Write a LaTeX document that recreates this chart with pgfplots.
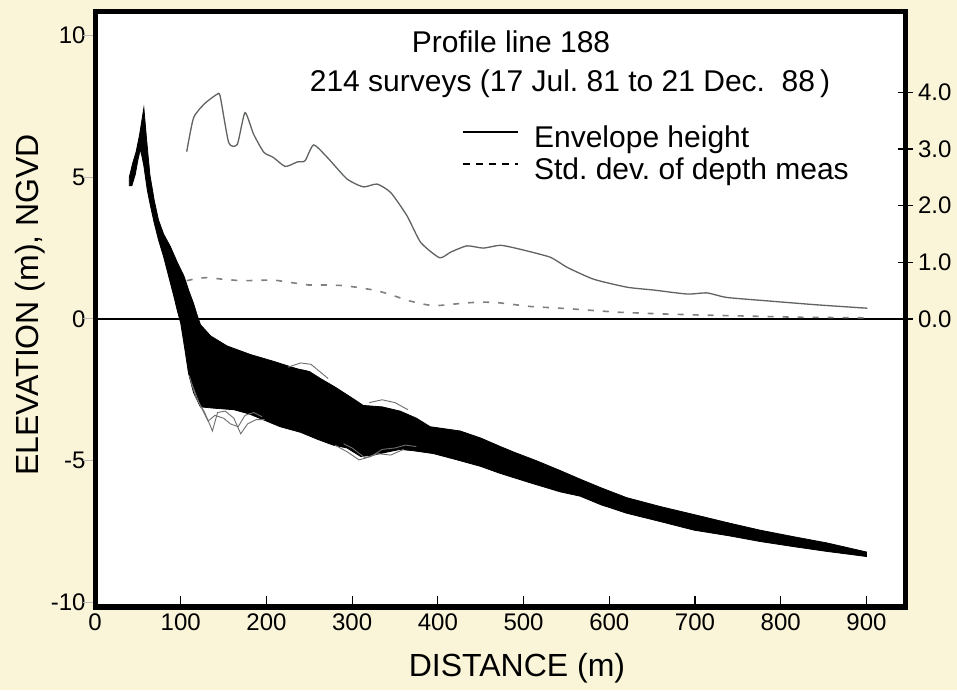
\documentclass[border=0pt]{standalone}
\usepackage{fontspec}
\setmainfont{Liberation Sans}
\usepackage{pgfplots}
\pgfplotsset{compat=1.18}
\definecolor{bgc}{RGB}{250,244,216}
\definecolor{envc}{RGB}{95,100,95}
\definecolor{sdc}{RGB}{125,130,125}
\definecolor{outc}{RGB}{110,110,110}

\begin{document}
\begin{tikzpicture}[x=1pt,y=1pt]
\fill[bgc] (0,0) rectangle (957,690);
\path[use as bounding box] (0,0) rectangle (957,690);

% ---------- main axis (elevation) ----------
\begin{axis}[
  name=main,
  at={(95pt,83pt)}, anchor=south west, scale only axis,
  width=810pt, height=595pt,
  xmin=0, xmax=945, ymin=-10.16, ymax=10.83,
  axis background/.style={fill=white},
  axis line style={line width=5pt},
  xtick={0,100,...,900}, ytick={-10,-5,0,5,10},
  xtick pos=bottom, ytick pos=left,
  tick align=inside,
  xtick style={black, line width=1.2pt},
  major tick length=11pt,
  ytick style={draw=none},
  ticklabel style={font=\fontsize{24}{24}\selectfont},
  /pgf/number format/assume math mode=true,
  xticklabel style={yshift=-3pt},
  yticklabel style={xshift=-6pt},
  xlabel={DISTANCE (m)}, ylabel={ELEVATION (m), NGVD},
  label style={font=\fontsize{32}{32}\selectfont},
  xlabel style={at={(axis description cs:0.521,-0.1025)}, anchor=center},
  ylabel style={at={(axis description cs:-0.0802,0.5076)}, anchor=center},
  legend style={at={(axis description cs:0.4531,0.8100)}, anchor=north west,
    draw=none, fill=none, inner sep=0pt, outer sep=0pt,
    font=\fontsize{30}{30}\selectfont,
    nodes={inner sep=0pt, text height=22pt, text depth=6pt},
    column sep=16pt, row sep=4pt},
  legend cell align=left,
  legend image code/.code={\draw[#1] (0pt,7pt) -- (55pt,7pt);},
]
\addlegendimage{black, line width=1.1pt}
\addlegendentry{Envelope height}
\addlegendimage{black, line width=1.1pt, dash pattern=on 7pt off 6pt}
\addlegendentry{Std.\ dev.\ of depth meas}

% zero line
\addplot[black, line width=1.5pt] coordinates {(0,0) (945,0)};

% envelope of the 214 surveyed profiles (filled band)
\addplot[fill=black, draw=black, line width=0.8pt] coordinates {
(40,5.0) (44,5.5) (48,5.9) (52,6.5) (57,7.45) (60,6.4) (64,5.1) (69,4.2) (74,3.5) (80,3.0)
(88,2.55) (96,2.0) (104,1.5) (110,0.95) (115,0.55) (119,0.15) (123,-0.2) (135,-0.6)
(154,-0.95) (181,-1.25) (209,-1.5) (235,-1.75) (250,-1.85) (263,-2.1) (280,-2.4)
(298,-2.75) (313,-3.05) (335,-3.1) (356,-3.25) (375,-3.5) (391,-3.8) (426,-3.95)
(450,-4.2) (473,-4.5) (489,-4.7) (515,-5.0) (543,-5.35) (566,-5.65) (590,-5.95)
(620,-6.3) (660,-6.62) (699,-6.9) (740,-7.2) (776,-7.45) (815,-7.68) (854,-7.9)
(880,-8.08) (900,-8.22)
(900,-8.38) (880,-8.3) (854,-8.2) (815,-8.03) (776,-7.85) (740,-7.65) (699,-7.45)
(660,-7.15) (620,-6.85) (590,-6.55) (566,-6.25) (543,-6.1) (510,-5.8) (473,-5.45)
(450,-5.2) (420,-4.95) (395,-4.75) (372,-4.65) (356,-4.6) (340,-4.7) (325,-4.8)
(310,-4.85) (294,-4.55) (278,-4.45) (260,-4.25) (240,-4.0) (216,-3.8) (200,-3.6)
(180,-3.35) (162,-3.2) (140,-3.15) (123,-3.1) (115,-2.6) (109,-1.9) (105,-1.1)
(100,-0.15) (96,0.3) (92,0.8) (86,1.5) (80,2.2) (74,2.8) (69,3.4) (65,3.95) (61,4.55)
(57,5.4) (53,6.0) (50,5.6) (47,5.1) (43,4.7) (40,4.7)
} -- cycle;

% outlying individual surveys
\addplot[outc, line width=0.9pt] coordinates {(110,-2.0) (118,-2.8) (128,-3.3) (137,-3.95) (143,-3.3) (152,-3.25) (162,-3.5) (170,-4.05) (178,-3.7) (188,-3.55) (198,-3.55)};
\addplot[outc, line width=0.9pt] coordinates {(113,-2.3) (122,-3.0) (132,-3.6) (140,-3.4) (150,-3.5) (158,-3.7) (167,-3.8) (175,-3.4) (185,-3.3) (195,-3.45)};
\addplot[outc, line width=0.9pt] coordinates {(225,-1.7) (240,-1.55) (252,-1.6) (262,-1.85) (272,-2.1)};
\addplot[outc, line width=0.9pt] coordinates {(320,-2.95) (335,-2.85) (350,-2.95) (365,-3.2)};
\addplot[outc, line width=0.9pt] coordinates {(280,-4.45) (295,-4.7) (308,-4.97) (322,-4.85) (335,-4.6) (350,-4.55) (362,-4.45) (375,-4.5)};
\addplot[outc, line width=0.9pt] coordinates {(290,-4.4) (300,-4.55) (315,-4.9) (330,-4.75) (345,-4.8) (360,-4.6)};
\end{axis}

% ---------- faint outer ticks on the left ----------
\begin{axis}[
  at={(95pt,83pt)}, anchor=south west, scale only axis,
  width=810pt, height=595pt,
  xmin=0, xmax=945, ymin=-10.16, ymax=10.83,
  axis x line=none, axis y line*=left, axis line style={draw=none},
  ytick={-10,-5,0,5,10}, yticklabels={},
  tick align=outside, major tick length=12pt,
  ytick style={gray!55, line width=1pt},
]
\addplot[draw=none] coordinates {(0,0)};
\end{axis}

% ---------- right axis (envelope height, std. dev.) ----------
\begin{axis}[
  at={(95pt,83pt)}, anchor=south west, scale only axis,
  width=810pt, height=595pt,
  xmin=0, xmax=945, ymin=-5.08, ymax=5.415,
  axis x line=none, axis y line*=right, axis line style={draw=none},
  ytick={0,1,2,3,4},
  yticklabel={\pgfmathprintnumber[fixed,fixed zerofill,precision=1,assume math mode=true]{\tick}},
  yticklabel style={font=\fontsize{24}{24}\selectfont, xshift=2pt},
  tick align=center, major tick length=15pt,
  ytick style={black, line width=1.2pt},
]
\addplot[envc, line width=1.3pt, smooth, tension=0.35] coordinates {
(107,2.95) (115,3.55) (128,3.80) (142,3.96) (146,3.93) (156,3.11) (166,3.08) (175,3.64)
(185,3.26) (197,2.94) (208,2.85) (222,2.69) (236,2.77) (245,2.79) (255,3.07) (271,2.85)
(294,2.47) (313,2.33) (329,2.38) (345,2.23) (364,1.82) (380,1.35) (402,1.08) (415,1.18)
(434,1.29) (453,1.25) (473,1.30) (496,1.23) (531,1.09) (551,0.91) (582,0.70) (621,0.56)
(652,0.51) (691,0.44) (714,0.46) (737,0.38) (784,0.32) (842,0.25) (901,0.19)
};
\addplot[sdc, line width=1.6pt, dash pattern=on 6pt off 9pt] coordinates {
(107,0.675) (120,0.72) (131,0.73) (150,0.70) (170,0.675) (190,0.68) (208,0.69) (230,0.64)
(249,0.60) (270,0.60) (290,0.59) (310,0.55) (329,0.50) (345,0.43) (364,0.33) (380,0.27)
(395,0.23) (411,0.25) (430,0.28) (450,0.30) (469,0.29) (508,0.22) (554,0.18) (609,0.12)
(660,0.09) (706,0.07) (765,0.05) (823,0.03) (901,0.02)
};
\end{axis}

% ---------- thick frame around the plot area ----------
\draw[line width=5pt, line join=miter] (main.south west) rectangle (main.north east);

% ---------- title ----------
\node[anchor=base, font=\fontsize{30}{30}\selectfont, inner sep=0pt] at (511,637) {Profile line 188};
\node[anchor=base, font=\fontsize{30}{30}\selectfont, inner sep=0pt] at (570,598) {214 surveys (17 Jul.\ 81 to 21 Dec.\ \ 88\,)};
\end{tikzpicture}
\end{document}
